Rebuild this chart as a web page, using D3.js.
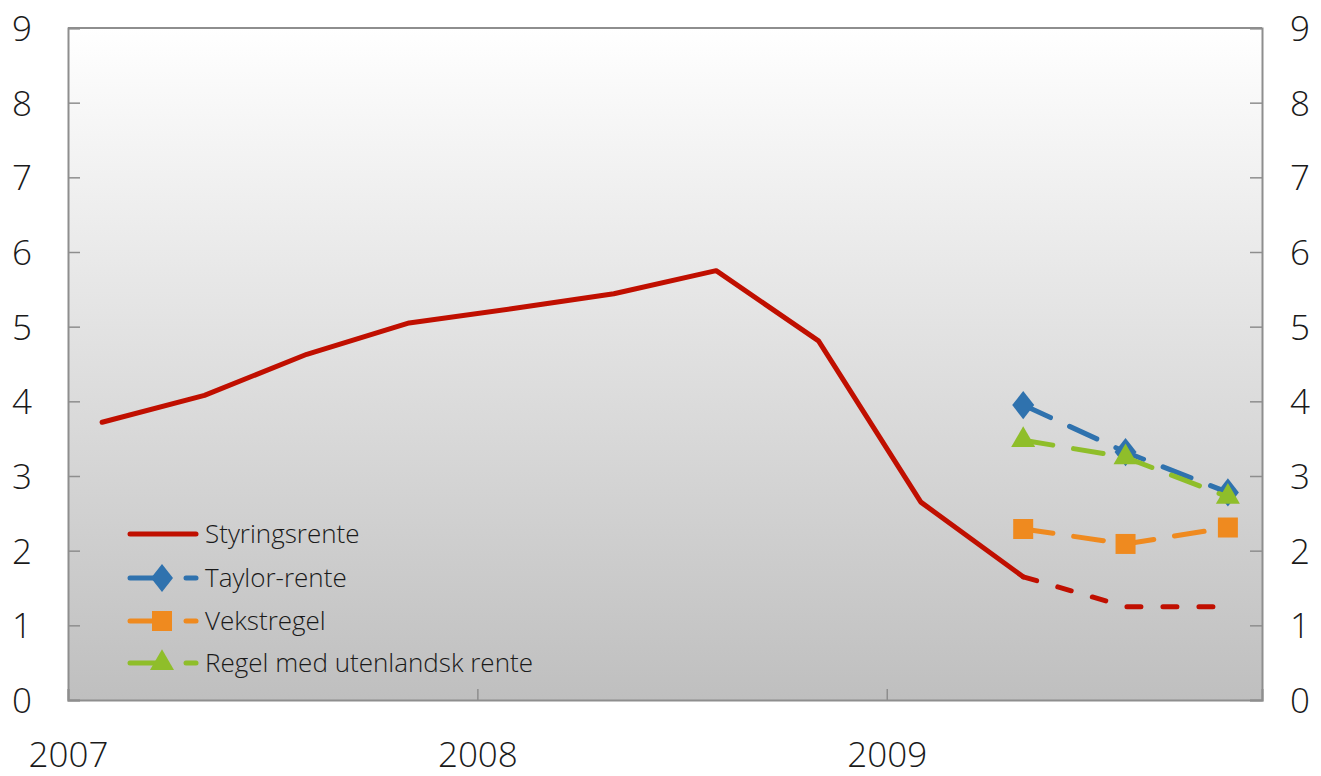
<!DOCTYPE html>
<html>
<head>
<meta charset="utf-8">
<script src="https://cdn.jsdelivr.net/npm/d3@7/dist/d3.min.js"></script>
<style>
  html, body { margin: 0; padding: 0; background: #ffffff; }
  svg { display: block; }
  text { font-family: "Open Sans", "Noto Sans", sans-serif; font-weight: 300; fill: #1a1a1a; }
</style>
</head>
<body>
<svg id="chart" width="1321" height="776"></svg>
<script>
// ---------- DATA ----------
const months = ["2007-02","2007-05","2007-08","2007-11","2008-02","2008-05","2008-08","2008-11","2009-02","2009-05","2009-08","2009-11"];
const styringsrente = [3.72, 4.08, 4.63, 5.05, 5.24, 5.44, 5.75, 4.81, 2.65, 1.65, 1.25, 1.25];
const forecastStart = "2009-05"; // dashed from here
const ruleMonths = ["2009-05","2009-08","2009-11"];
const taylorRente = [3.95, 3.32, 2.78];
const vekstregel = [2.29, 2.09, 2.31];
const utenlandskRente = [3.48, 3.25, 2.72];
const yTicks = [0,1,2,3,4,5,6,7,8,9];
const yearTicks = ["2007-01","2008-01","2009-01"];
const yearLabels = ["2007","2008","2009"];
const axisStart = "2007-01", axisEnd = "2009-12";
const legendLabels = ["Styringsrente","Taylor-rente","Vekstregel","Regel med utenlandsk rente"];

// ---------- HELPERS ----------
const monthIndex = s => { const [y,m] = s.split("-").map(Number); return y*12 + (m-1); };

const W = 1321, H = 776;
const m = {left: 68, right: 1262, top: 28, bottom: 700};
const svg = d3.select("#chart");

const x = d3.scaleLinear().domain([monthIndex(axisStart), monthIndex(axisEnd)]).range([m.left, m.right]);
const y = d3.scaleLinear().domain([0, 9]).range([m.bottom, m.top]);

const colors = {red: "#c00f00", blue: "#2f72ae", orange: "#ef8a1f", green: "#8fbe2a"};
const axisColor = "#8e8e8e";

// background gradient
const defs = svg.append("defs");
const grad = defs.append("linearGradient").attr("id","bg").attr("x1",0).attr("y1",0).attr("x2",0).attr("y2",1);
grad.append("stop").attr("offset","0%").attr("stop-color","#ffffff");
grad.append("stop").attr("offset","100%").attr("stop-color","#bfbfbf");

svg.append("rect").attr("x", m.left).attr("y", m.top)
  .attr("width", m.right - m.left).attr("height", m.bottom - m.top)
  .attr("fill", "url(#bg)");

// axes
const gL = svg.append("g").attr("transform", `translate(${m.left},0)`)
  .call(d3.axisLeft(y).tickValues(yTicks).tickSize(-12).tickPadding(34).tickFormat(d3.format("d")));
const gR = svg.append("g").attr("transform", `translate(${m.right},0)`)
  .call(d3.axisRight(y).tickValues(yTicks).tickSize(-12).tickPadding(26).tickFormat(d3.format("d")));
[gL, gR].forEach(g => {
  g.select(".domain").attr("stroke", axisColor).attr("stroke-width", 2);
  g.selectAll(".tick line").attr("stroke", axisColor).attr("stroke-width", 1.5);
  g.selectAll(".tick text").attr("font-size", 35).attr("fill", "#1a1a1a")
    .attr("font-family", '"Open Sans", "Noto Sans", sans-serif').attr("font-weight", 300)
    .attr("dy", "0.36em");
});
gL.selectAll(".tick text").attr("text-anchor", "middle").attr("x", -46);
gR.selectAll(".tick text").attr("text-anchor", "middle").attr("x", 38);

const gB = svg.append("g").attr("transform", `translate(0,${m.bottom})`)
  .call(d3.axisBottom(x).tickValues(yearTicks.map(monthIndex)).tickSize(-11).tickFormat((d,i) => yearLabels[i]));
gB.select(".domain").attr("stroke", axisColor).attr("stroke-width", 2);
gB.selectAll(".tick line").attr("stroke", axisColor).attr("stroke-width", 1.5);
gB.selectAll(".tick text").attr("font-size", 35).attr("fill", "#1a1a1a")
  .attr("font-family", '"Open Sans", "Noto Sans", sans-serif').attr("font-weight", 300)
  .attr("y", 0).attr("dy", 0).attr("transform", "translate(0,67)");

// top border
svg.append("line").attr("x1", m.left).attr("x2", m.right).attr("y1", m.top).attr("y2", m.top)
  .attr("stroke", axisColor).attr("stroke-width", 2);

// ---------- LINES ----------
const line = d3.line().x(d => x(monthIndex(d.m))).y(d => y(d.v));
const rateData = months.map((mm,i) => ({m: mm, v: styringsrente[i]}));
const fi = months.indexOf(forecastStart);

svg.append("path").datum(rateData.slice(0, fi+1)).attr("d", line)
  .attr("fill","none").attr("stroke", colors.red).attr("stroke-width", 5)
  .attr("stroke-linejoin","round").attr("stroke-linecap","round");
svg.append("path").datum(rateData.slice(fi)).attr("d", line)
  .attr("fill","none").attr("stroke", colors.red).attr("stroke-width", 5)
  .attr("stroke-dasharray","14,22").attr("stroke-linecap","round");

const ruleSeries = [
  {vals: taylorRente, color: colors.blue, sym: d3.symbolDiamond, size: 230},
  {vals: vekstregel, color: colors.orange, sym: d3.symbolSquare, size: 400},
  {vals: utenlandskRente, color: colors.green, sym: d3.symbolTriangle, size: 250}
];
ruleSeries.forEach(s => {
  const data = ruleMonths.map((mm,i) => ({m: mm, v: s.vals[i]}));
  svg.append("path").datum(data).attr("d", line)
    .attr("fill","none").attr("stroke", s.color).attr("stroke-width", 5)
    .attr("stroke-dasharray","30,21").attr("stroke-linecap","round");
  svg.selectAll(null).data(data).enter().append("path")
    .attr("d", d3.symbol().type(s.sym).size(s.size))
    .attr("transform", d => `translate(${x(monthIndex(d.m))},${y(d.v)})` + (s.sym === d3.symbolDiamond ? " scale(1.35,1)" : ""))
    .attr("fill", s.color);
});

// ---------- LEGEND ----------
const legendRows = [534, 578, 621, 663];
const lg = svg.append("g");
const legendItems = [
  {label: legendLabels[0], color: colors.red, sym: null},
  {label: legendLabels[1], color: colors.blue, sym: d3.symbolDiamond, size: 230},
  {label: legendLabels[2], color: colors.orange, sym: d3.symbolSquare, size: 400},
  {label: legendLabels[3], color: colors.green, sym: d3.symbolTriangle, size: 250}
];
legendItems.forEach((it, i) => {
  const yy = legendRows[i];
  if (!it.sym) {
    lg.append("line").attr("x1",130).attr("x2",196).attr("y1",yy).attr("y2",yy)
      .attr("stroke", it.color).attr("stroke-width",5).attr("stroke-linecap","round");
  } else {
    lg.append("line").attr("x1",130).attr("x2",162).attr("y1",yy).attr("y2",yy)
      .attr("stroke", it.color).attr("stroke-width",5).attr("stroke-linecap","round");
    lg.append("line").attr("x1",186).attr("x2",196).attr("y1",yy).attr("y2",yy)
      .attr("stroke", it.color).attr("stroke-width",5).attr("stroke-linecap","round");
    lg.append("path").attr("d", d3.symbol().type(it.sym).size(it.size))
      .attr("transform", `translate(162,${yy})` + (it.sym === d3.symbolDiamond ? " scale(1.35,1)" : ""))
      .attr("fill", it.color);
  }
  lg.append("text").attr("x", 205).attr("y", yy + 9).attr("font-size", 26).text(it.label);
});
</script>
</body>
</html>
